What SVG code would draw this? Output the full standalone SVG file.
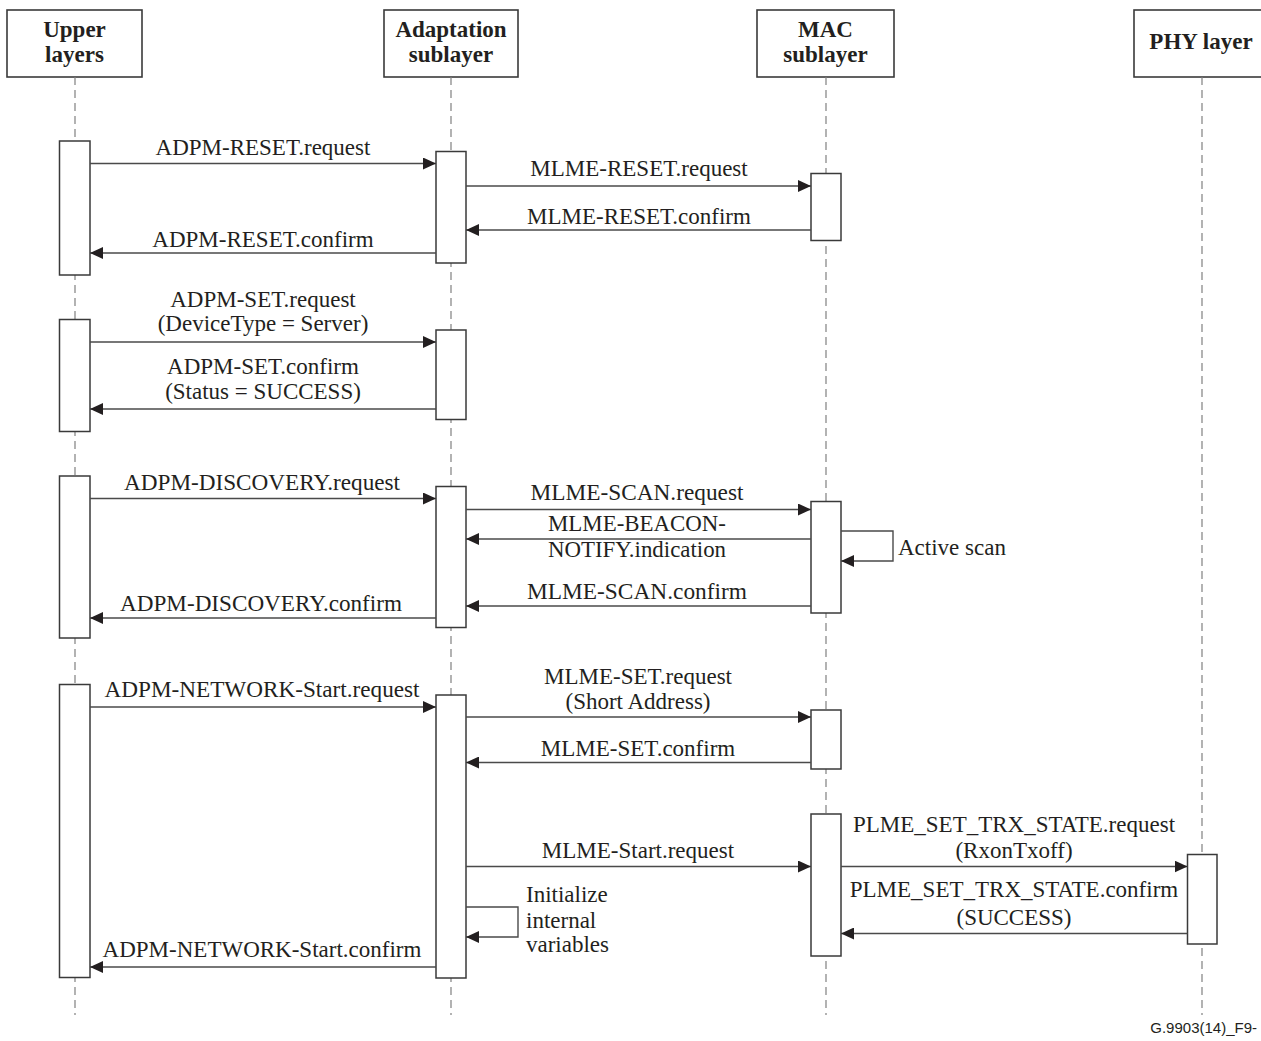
<svg xmlns="http://www.w3.org/2000/svg" width="1261" height="1041" viewBox="0 0 1261 1041">
<defs>
<marker id="ah" markerUnits="userSpaceOnUse" markerWidth="14" markerHeight="12" refX="13" refY="6" orient="auto">
<path d="M0,0 L13,6 L0,12 z" fill="#231f20"/>
</marker>
<style>
.hdr{fill:#fff;stroke:#3a3a3a;stroke-width:1.6}
.ht{font-family:"Liberation Serif",serif;font-weight:bold;font-size:23px;fill:#231f20;text-anchor:middle}
.life{stroke:#808080;stroke-width:1.2;stroke-dasharray:8,5;fill:none}
.act{fill:#fff;stroke:#3a3a3a;stroke-width:1.5}
.msg{stroke:#4a4a4a;stroke-width:1.4;fill:none;marker-end:url(#ah)}
.t{font-family:"Liberation Serif",serif;font-size:23px;fill:#231f20;text-anchor:middle}
.tl{font-family:"Liberation Serif",serif;font-size:23px;fill:#231f20}
.foot{font-family:"Liberation Sans",Arial,sans-serif;font-size:15px;fill:#231f20;text-anchor:end}
</style>
</defs>
<rect width="1261" height="1041" fill="#fff"/>

<g id="upper-layers">
<rect class="hdr" x="7" y="10" width="135" height="67"/>
<text class="ht" x="74.5" y="37">Upper</text>
<text class="ht" x="74.5" y="62">layers</text>
<line class="life" x1="75" y1="77" x2="75" y2="1015"/>
<rect class="act" x="59.5" y="141" width="30.5" height="134"/>
<rect class="act" x="59.5" y="319.5" width="30.5" height="112"/>
<rect class="act" x="59.5" y="476" width="30.5" height="162"/>
<rect class="act" x="59.5" y="684.5" width="30.5" height="293"/>
</g>

<g id="adaptation-sublayer">
<rect class="hdr" x="384" y="10" width="134" height="67"/>
<text class="ht" x="451" y="37">Adaptation</text>
<text class="ht" x="451" y="62">sublayer</text>
<line class="life" x1="451" y1="77" x2="451" y2="1015"/>
<rect class="act" x="436" y="151.5" width="30" height="111.5"/>
<rect class="act" x="436" y="330" width="30" height="89.5"/>
<rect class="act" x="436" y="486.5" width="30" height="141"/>
<rect class="act" x="436" y="695" width="30" height="283"/>
</g>

<g id="mac-sublayer">
<rect class="hdr" x="757" y="10" width="137" height="67"/>
<text class="ht" x="825.5" y="37">MAC</text>
<text class="ht" x="825.5" y="62">sublayer</text>
<line class="life" x1="826" y1="77" x2="826" y2="1015"/>
<rect class="act" x="811" y="173.5" width="30" height="67"/>
<rect class="act" x="811" y="501.5" width="30" height="111.5"/>
<rect class="act" x="811" y="710" width="30" height="59"/>
<rect class="act" x="811" y="814" width="30" height="142"/>
</g>

<g id="phy-layer">
<rect class="hdr" x="1134" y="10" width="135" height="67"/>
<text class="ht" x="1201" y="49">PHY layer</text>
<line class="life" x1="1202" y1="77" x2="1202" y2="1015"/>
<rect class="act" x="1187.5" y="854.5" width="29.5" height="89.5"/>
</g>

<g id="connectors">
<line class="msg" x1="90" y1="163.5" x2="436" y2="163.5"/>
<text class="t" x="263" y="155">ADPM-RESET.request</text>
<line class="msg" x1="466" y1="186" x2="811" y2="186"/>
<text class="t" x="639" y="176">MLME-RESET.request</text>
<line class="msg" x1="811" y1="230" x2="466" y2="230"/>
<text class="t" x="639" y="224">MLME-RESET.confirm</text>
<line class="msg" x1="436" y1="253" x2="90" y2="253"/>
<text class="t" x="263" y="246.5">ADPM-RESET.confirm</text>

<line class="msg" x1="90" y1="342" x2="436" y2="342"/>
<text class="t" x="263" y="306.5">ADPM-SET.request</text>
<text class="t" x="263" y="331">(DeviceType = Server)</text>
<line class="msg" x1="436" y1="409" x2="90" y2="409"/>
<text class="t" x="263" y="374">ADPM-SET.confirm</text>
<text class="t" x="263" y="398.5">(Status = SUCCESS)</text>

<line class="msg" x1="90" y1="498.5" x2="436" y2="498.5"/>
<text class="t" x="262" y="489.5" textLength="276" lengthAdjust="spacingAndGlyphs">ADPM-DISCOVERY.request</text>
<line class="msg" x1="466" y1="509.5" x2="811" y2="509.5"/>
<text class="t" x="637" y="500" textLength="213" lengthAdjust="spacingAndGlyphs">MLME-SCAN.request</text>
<line class="msg" x1="811" y1="539" x2="466" y2="539"/>
<text class="t" x="637" y="530.5" textLength="178" lengthAdjust="spacingAndGlyphs">MLME-BEACON-</text>
<text class="t" x="637" y="557" textLength="178" lengthAdjust="spacingAndGlyphs">NOTIFY.indication</text>
<polyline class="msg" points="841,531 893,531 893,561 841,561"/>
<text class="tl" x="898" y="555">Active scan</text>
<line class="msg" x1="811" y1="606" x2="466" y2="606"/>
<text class="t" x="637" y="598.5" textLength="220" lengthAdjust="spacingAndGlyphs">MLME-SCAN.confirm</text>
<line class="msg" x1="436" y1="618" x2="90" y2="618"/>
<text class="t" x="261" y="611" textLength="282" lengthAdjust="spacingAndGlyphs">ADPM-DISCOVERY.confirm</text>

<line class="msg" x1="90" y1="707" x2="436" y2="707"/>
<text class="t" x="262" y="697" textLength="315" lengthAdjust="spacingAndGlyphs">ADPM-NETWORK-Start.request</text>
<line class="msg" x1="466" y1="717" x2="811" y2="717"/>
<text class="t" x="638" y="684">MLME-SET.request</text>
<text class="t" x="638" y="709">(Short Address)</text>
<line class="msg" x1="811" y1="762.5" x2="466" y2="762.5"/>
<text class="t" x="638" y="755.5">MLME-SET.confirm</text>
<line class="msg" x1="466" y1="866.5" x2="811" y2="866.5"/>
<text class="t" x="638" y="858">MLME-Start.request</text>
<line class="msg" x1="841" y1="866.5" x2="1187.5" y2="866.5"/>
<text class="t" x="1014" y="832">PLME_SET_TRX_STATE.request</text>
<text class="t" x="1014" y="858">(RxonTxoff)</text>
<line class="msg" x1="1187.5" y1="933.5" x2="841" y2="933.5"/>
<text class="t" x="1014" y="897">PLME_SET_TRX_STATE.confirm</text>
<text class="t" x="1014" y="925">(SUCCESS)</text>
<polyline class="msg" points="466,907 518,907 518,937 466,937"/>
<text class="tl" x="526" y="902">Initialize</text>
<text class="tl" x="526" y="928">internal</text>
<text class="tl" x="526" y="952">variables</text>
<line class="msg" x1="436" y1="967" x2="90" y2="967"/>
<text class="t" x="262" y="957">ADPM-NETWORK-Start.confirm</text>
</g>

<text class="foot" x="1257" y="1033">G.9903(14)_F9-</text>
</svg>
